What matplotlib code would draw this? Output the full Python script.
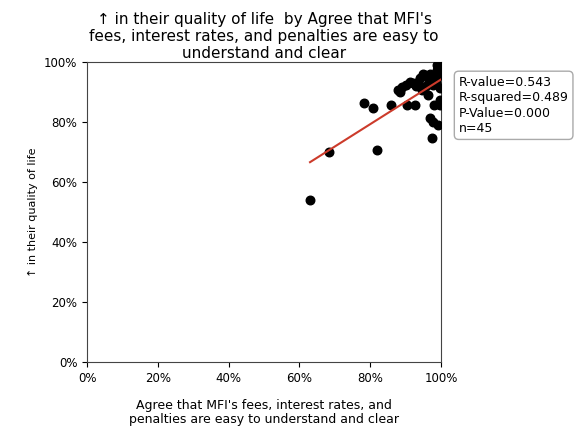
import matplotlib.pyplot as plt
import numpy as np

# agree share (x, %) and "up in quality of life" share (y, %)
agree = [63.0, 68.4, 78.2, 80.8, 81.9, 85.9, 87.9, 89.0, 90.4, 91.2,
         92.7, 93.5, 94.0, 95.5, 96.3, 96.9, 97.5, 97.7, 97.5, 98.3,
         98.9, 99.2, 99.7, 99.7, 99.2, 99.7, 98.6, 95.8, 94.6, 99.7,
         98.0, 88.5, 90.0, 93.0, 96.5, 97.0, 99.5, 100.0, 100.0, 98.8,
         95.0, 92.0, 99.0, 100.0, 97.8]
quality = [54.0, 70.0, 86.3, 84.7, 70.7, 85.7, 90.7, 91.7, 85.7, 93.3,
           85.7, 93.3, 94.7, 95.7, 89.0, 81.3, 93.0, 80.0, 74.7, 95.7,
           97.3, 98.7, 99.3, 87.3, 79.0, 85.7, 93.0, 92.0, 90.7, 91.3,
           85.7, 90.0, 92.5, 92.0, 94.0, 96.0, 97.5, 100.0, 96.5, 95.0,
           96.0, 93.0, 99.0, 98.0, 92.5]

# fitted line
slope = 0.745
intercept = 19.7

stats = ["R-value=0.543", "R-squared=0.489", "P-Value=0.000", "n=45"]

fig = plt.figure(figsize=(5.74, 4.28), dpi=100)
ax = fig.add_axes([0.1516, 0.154, 0.6167, 0.701])

ax.scatter(agree, quality, color='black', s=38, zorder=3)
xs = np.array([min(agree), max(agree)])
ax.plot(xs, slope * xs + intercept, color='#cc3b2b', linewidth=1.5, zorder=4)

ax.set_xlim(0, 100)
ax.set_ylim(0, 100)
ticks = [0, 20, 40, 60, 80, 100]
ax.set_xticks(ticks)
ax.set_yticks(ticks)
ax.set_xticklabels([f"{t}%" for t in ticks], fontsize=8.5)
ax.set_yticklabels([f"{t}%" for t in ticks], fontsize=8.5)
for s in ax.spines.values():
    s.set_color('#444444')

ax.set_title("↑ in their quality of life  by Agree that MFI's\n"
             "fees, interest rates, and penalties are easy to\n"
             "understand and clear", fontsize=11, linespacing=1.15, pad=3)
ax.set_xlabel("Agree that MFI's fees, interest rates, and\n"
              "penalties are easy to understand and clear", fontsize=9,
              labelpad=10, linespacing=1.15)
ax.set_ylabel("↑ in their quality of life", fontsize=8)

ax.text(1.05, 0.955, "\n".join(stats), transform=ax.transAxes,
        fontsize=9, va='top', ha='left', linespacing=1.25,
        bbox=dict(boxstyle='round,pad=0.35', facecolor='white',
                  edgecolor='#aaaaaa'))

fig.savefig("out.png", dpi=100)
